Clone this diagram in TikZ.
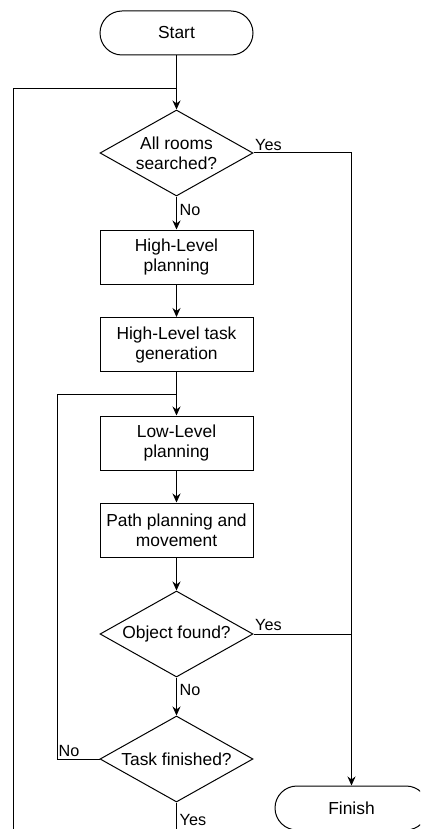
\documentclass[tikz,border=0pt]{standalone}
\usepackage{fontspec}
\setmainfont{Liberation Sans}
\usetikzlibrary{shapes.geometric,arrows.meta}
\begin{document}
\begin{tikzpicture}[x=1pt,y=-1pt,
  txt/.style={font=\fontsize{17.4}{20}\selectfont, align=center},
  proc/.style={txt, draw, line width=1pt, minimum width=153pt, minimum height=54pt, inner sep=0pt},
  term/.style={txt, draw, line width=1pt, rounded corners=22pt, minimum width=153pt, minimum height=44pt, inner sep=0pt},
  dec/.style={draw, line width=1pt, diamond, aspect=1.78, minimum width=153pt, minimum height=86pt, inner sep=0pt},
  lab/.style={font=\fontsize{16.2}{19}\selectfont, inner sep=0pt, anchor=west},
  conn/.style={line width=1pt},
  arr/.style={conn, -{Stealth[length=9pt,width=8pt]}}]
\useasboundingbox (0,0) rectangle (420,829);
\clip (0,0) rectangle (420,829);

% nodes
\node[term] (start) at (176.5,33) {Start};
\node[dec, label={[txt]center:All rooms\\searched?}] (d1) at (176.5,153) {};
\node[proc] (b1) at (176.5,257) {High-Level\\planning};
\node[proc] (b2) at (176.5,344.5) {High-Level task\\generation};
\node[proc] (b3) at (176.5,443) {Low-Level\\planning};
\node[proc] (b4) at (176.5,530) {Path planning and\\movement};
\node[dec, label={[txt]center:Object found?}] (d2) at (176.5,634) {};
\node[dec, label={[txt]center:Task finished?}] (d3) at (176.5,759) {};
\node[term] (finish) at (351.5,808) {Finish};

% helper coordinates
\coordinate (lb) at (13,840);
\coordinate (lt) at (13,89);
\coordinate (j1) at (176.5,89);
\coordinate (r1) at (351.5,153);
\coordinate (r2) at (351.5,634);
\coordinate (l1) at (57,759);
\coordinate (l2) at (57,394);
\coordinate (j2) at (176.5,394);
\coordinate (bot) at (176.5,840);

% connectors
\draw[conn] (lb) -- (lt) -- (j1);
\draw[arr] (start) -- (d1);
\draw[arr] (d1.east) -- (r1) -- (finish.north);
\draw[arr] (d1) -- (b1);
\draw[arr] (b1) -- (b2);
\draw[conn] (d3.west) -- (l1) -- (l2) -- (j2);
\draw[arr] (b2) -- (b3);
\draw[arr] (b3) -- (b4);
\draw[arr] (b4) -- (d2);
\draw[conn] (d2.east) -- (r2);
\draw[arr] (d2) -- (d3);
\draw[conn] (d3.south) -- (bot);

% labels
\node[lab] (y1) at (255,145) {Yes};
\node[lab] (n1) at (179.5,210) {No};
\node[lab] (y2) at (255,625) {Yes};
\node[lab] (n2) at (179.5,690) {No};
\node[lab] (n3) at (58.5,751) {No};
\node[lab] (y3) at (179.5,820) {Yes};
\end{tikzpicture}
\end{document}
